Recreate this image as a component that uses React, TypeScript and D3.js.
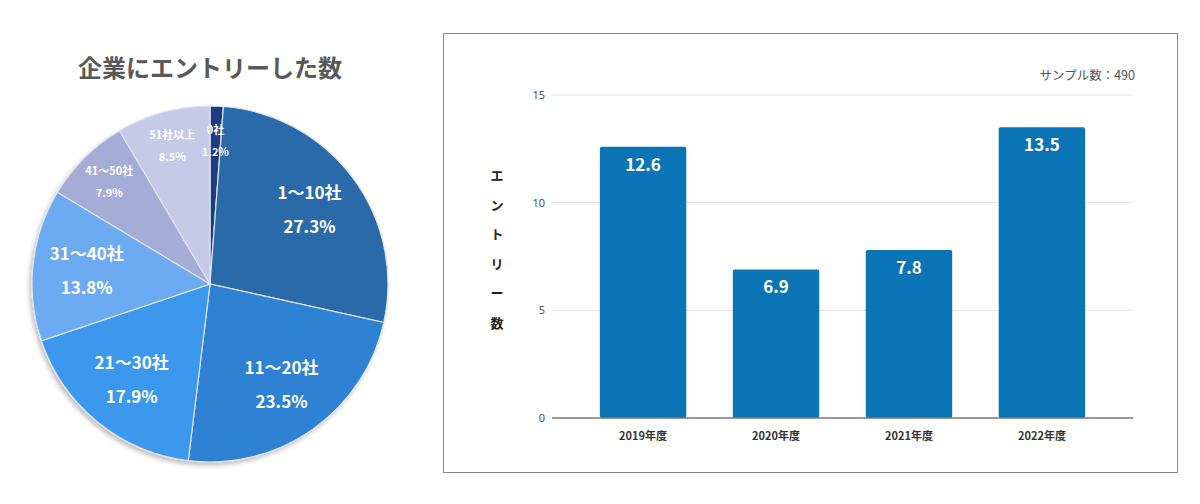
import * as React from "react";
import * as d3 from "d3";

// pie: entries per student
const pieLabels: string[] = ["0社", "1～10社", "11～20社", "21～30社", "31～40社", "41～50社", "51社以上"];
const pieValues: number[] = [1.2, 27.3, 23.5, 17.9, 13.8, 7.9, 8.5];
const pieColors: string[] = ["#1e3d82", "#2c6ba9", "#2f81d3", "#3b98ec", "#6cabf1", "#a5acd5", "#c5cbe7"];

// bars: average entries by year
const years: string[] = ["2019年度", "2020年度", "2021年度", "2022年度"];
const entries: number[] = [12.6, 6.9, 7.8, 13.5];
const yTicks: number[] = [0, 5, 10, 15];
const yTitle: string[] = ["エ", "ン", "ト", "リ", "ー", "数"];

const FONT = "'Noto Sans CJK JP', 'Noto Sans', sans-serif";

const cx = 210;
const cy = 284;
const radius = 178;

const pie = d3.pie<number>().sort(null).value(d => d);
const arcs = pie(pieValues);
const arcGen = d3.arc<d3.PieArcDatum<number>>().innerRadius(0).outerRadius(radius);

const x = d3.scaleBand<string>().domain(years).range([552, 1133]).paddingInner(0.35).paddingOuter(0.36);
const y = d3.scaleLinear().domain([0, 15]).range([418, 95]);

export default function App() {
  return (
    <svg width={1200} height={504} style={{ position: "absolute", left: 0, top: 0, fontFamily: FONT }}>
      <defs>
        <filter id="sh" x="-10%" y="-10%" width="120%" height="120%">
          <feDropShadow dx="-2" dy="3" stdDeviation="2" floodColor="#000" floodOpacity="0.25" />
        </filter>
      </defs>
      <rect x={0} y={0} width={1200} height={504} fill="#fff" />

      {/* pie chart */}
      <text x={cx} y={77} textAnchor="middle" fontSize={24} fontWeight="bold" fill="#595959">
        企業にエントリーした数
      </text>
      <g transform={`translate(${cx},${cy})`}>
        <g filter="url(#sh)">
          {arcs.map((a, i) => (
            <path key={i} d={arcGen(a) as string} fill={pieColors[i]} stroke="#dfe3ee" strokeWidth={1.2} />
          ))}
        </g>
        {arcs.map((a, i) => {
          const small = pieValues[i] < 10;
          const lr = small ? 143 : 124;
          const [lx, ly] = d3.arc<d3.PieArcDatum<number>>().innerRadius(lr).outerRadius(lr).centroid(a);
          const fs = small ? 11 : 17;
          const gap = small ? 11 : 17;
          return (
            <g key={i} fill="#fff" fontWeight="bold" fontSize={fs} textAnchor="middle">
              <text x={lx} y={ly - gap + fs * 0.35}>{pieLabels[i]}</text>
              <text x={lx} y={ly + gap + fs * 0.35}>{pieValues[i].toFixed(1)}%</text>
            </g>
          );
        })}
      </g>

      {/* bar chart */}
      <rect x={443.5} y={33.5} width={734} height={439} fill="#fff" stroke="#8a8a8a" strokeWidth={1} />
      <text x={1135} y={80} textAnchor="end" fontSize={12.5} fill="#555">サンプル数：490</text>
      {yTicks.map(t => (
        <g key={t}>
          {t > 0 && <line x1={552} x2={1133} y1={y(t)} y2={y(t)} stroke="#e2e2e2" strokeWidth={1} />}
          <text x={545} y={y(t) + 4} textAnchor="end" fontSize={11} fill="#444" fontFamily="'Open Sans', sans-serif">
            {t}
          </text>
        </g>
      ))}
      {yTitle.map((c, i) => (
        <text key={i} x={497} y={180 + i * 29.5} textAnchor="middle" fontSize={13} fontWeight="bold" fill="#222">
          {c}
        </text>
      ))}
      {years.map((yr, i) => (
        <g key={yr}>
          <rect
            x={x(yr)}
            y={y(entries[i])}
            width={x.bandwidth()}
            height={y(0) - y(entries[i])}
            fill="#0a74b5"
            rx={2}
          />
          <text
            x={(x(yr) as number) + x.bandwidth() / 2}
            y={y(entries[i]) + 24}
            textAnchor="middle"
            fontSize={17}
            fontWeight="bold"
            fill="#fff"
          >
            {entries[i].toFixed(1)}
          </text>
          <text
            x={(x(yr) as number) + x.bandwidth() / 2}
            y={440}
            textAnchor="middle"
            fontSize={11}
            fontWeight="bold"
            fill="#333"
          >
            {yr}
          </text>
        </g>
      ))}
      <line x1={552} x2={1133} y1={y(0)} y2={y(0)} stroke="#777" strokeWidth={1.5} />
    </svg>
  );
}
